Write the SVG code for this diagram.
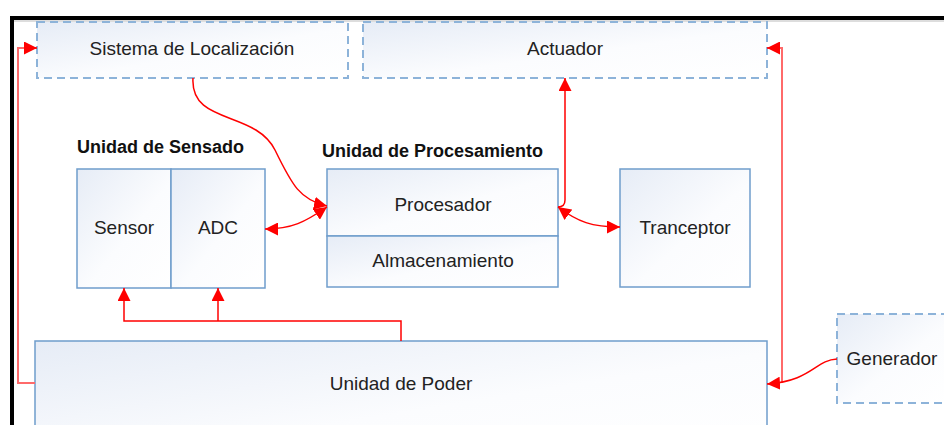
<svg xmlns="http://www.w3.org/2000/svg" width="944" height="425" viewBox="0 0 944 425">
<defs>
<linearGradient id="g" x1="0" y1="0" x2="1" y2="1">
<stop offset="0" stop-color="#e6ecf6"/>
<stop offset="0.55" stop-color="#fbfcfe"/>
<stop offset="1" stop-color="#ffffff"/>
</linearGradient>
<marker id="ahb" viewBox="0 0 10 10" refX="10" refY="5" markerWidth="13" markerHeight="13" markerUnits="userSpaceOnUse" orient="auto-start-reverse">
<path d="M0,0 L10,5 L0,10 z" fill="#ff0000"/>
</marker>
<style>
.box{fill:url(#g);stroke:#6f9dcc;stroke-width:1.5}
.dbox{fill:url(#g);stroke:#8db3d9;stroke-width:2;stroke-dasharray:8,5}
.t{font-family:"Liberation Sans",Arial,sans-serif;font-size:19px;fill:#222;text-anchor:middle}
.b{font-family:"Liberation Sans",Arial,sans-serif;font-size:18px;font-weight:bold;fill:#111}
.c{fill:none;stroke:#ff0000;stroke-width:1.5}
.cl{fill:none;stroke:#ff6a6a;stroke-width:2}
</style>
</defs>
<rect x="0" y="0" width="944" height="425" fill="#ffffff"/>
<rect x="12" y="18" width="1000" height="500" fill="none" stroke="#000" stroke-width="4"/>
<line x1="14" y1="21" x2="944" y2="21" stroke="#bbb" stroke-width="1"/>

<g id="sistema">
<rect class="dbox" x="37" y="22" width="311" height="56"/>
<text class="t" x="192" y="55">Sistema de Localización</text>
</g>
<g id="actuador">
<rect class="dbox" x="363" y="22" width="404" height="56"/>
<text class="t" x="565" y="55">Actuador</text>
</g>
<g id="sensado">
<text class="b" x="77" y="153">Unidad de Sensado</text>
<rect class="box" x="77" y="169" width="94" height="119"/>
<rect class="box" x="171" y="169" width="94" height="119"/>
<text class="t" x="124" y="234">Sensor</text>
<text class="t" x="218" y="234">ADC</text>
</g>
<g id="procesamiento">
<text class="b" x="322" y="157">Unidad de Procesamiento</text>
<rect class="box" x="327" y="169" width="231" height="67"/>
<rect class="box" x="327" y="236" width="231" height="51"/>
<text class="t" x="443" y="211">Procesador</text>
<text class="t" x="443" y="267">Almacenamiento</text>
</g>
<g id="tranceptor">
<rect class="box" x="620" y="169" width="130" height="118"/>
<text class="t" x="685" y="234">Tranceptor</text>
</g>
<g id="poder">
<rect class="box" x="35" y="341" width="732" height="120"/>
<text class="t" x="401" y="390">Unidad de Poder</text>
</g>
<g id="generador">
<rect class="dbox" x="837" y="314" width="112" height="89"/>
<text class="t" x="892" y="365">Generador</text>
</g>

<g id="connectors">
<path class="c" d="M193,78 C190,125 255,110 275,150 C292,185 300,200 327,206" marker-end="url(#ahb)"/>
<path class="c" d="M265,229 C292,229 305,222 327,207" marker-start="url(#ahb)" marker-end="url(#ahb)"/>
<path class="c" d="M558,207 C578,222 592,227 620,227" marker-start="url(#ahb)" marker-end="url(#ahb)"/>
<path class="c" d="M558,207 C563,207 565,205 565,200 L565,78" marker-end="url(#ahb)"/>
<path class="c" d="M401,341 L401,321 L124,321 L124,288" marker-end="url(#ahb)"/>
<path class="c" d="M218,321 L218,288" marker-end="url(#ahb)"/>
<path class="cl" d="M35,383 L18,383 L18,48 L30,48"/>
<path class="c" d="M30,48 L37,48" marker-end="url(#ahb)"/>
<path class="cl" d="M782,383 L782,48 L774,48"/>
<path class="c" d="M774,48 L767,48" marker-end="url(#ahb)"/>
<path class="c" d="M837,359 C815,360 812,381 767,384" marker-end="url(#ahb)"/>
</g>
</svg>
